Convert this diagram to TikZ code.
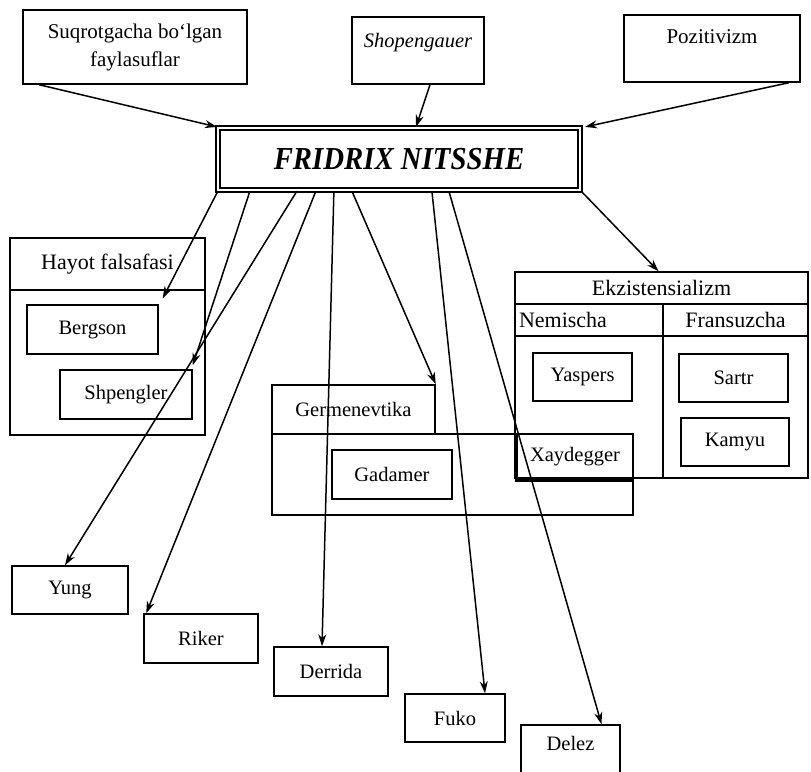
\documentclass[tikz,border=0pt]{standalone}
\usepackage{fontspec}
\usepackage{graphicx}
\setmainfont{Liberation Serif}
\usetikzlibrary{arrows.meta}
\begin{document}
\begin{tikzpicture}[x=1pt,y=-1pt,
  box/.style={draw, line width=1.5pt, inner sep=0pt, font=\fontsize{20.5}{24}\selectfont},
  ttl/.style={box, font=\fontsize{22}{26}\selectfont},
  arr/.style={line width=1.5pt, -{Stealth[length=12pt,width=8pt]}},
]
\useasboundingbox (0,0) rectangle (811,771);

% top boxes
\node[box, minimum width=224, minimum height=74, align=center, font=\fontsize{21}{28}\selectfont] (suq) at (135,47) {Suqrotgacha bo‘lgan\\faylasuflar};
\node[box, minimum width=132, minimum height=67, text height=14pt, text depth=20pt, font=\fontsize{20.5}{24}\selectfont\itshape] (shop) at (418,50.5) {Shopengauer};
\node[box, minimum width=176, minimum height=67, text height=14pt, text depth=24pt, font=\fontsize{21}{25}\selectfont] (pos) at (712,48.5) {Pozitivizm};

% central box
\node[draw, double, double distance=1.2pt, line width=2.2pt, inner sep=0pt, minimum width=362, minimum height=62] (fn) at (399,159)
  {\fontsize{32}{36}\selectfont\bfseries\itshape\scalebox{0.9}[1]{FRIDRIX NITSSHE}};

% Hayot falsafasi
\node[ttl, minimum width=195, minimum height=52] (hayh) at (107.5,264) {Hayot falsafasi};
\node[box, minimum width=195, minimum height=145] (hayb) at (107.5,362.5) {};
\node[box, minimum width=131, minimum height=49] (berg) at (92.5,329.5) {Bergson};
\node[box, minimum width=132, minimum height=49] (shp) at (126,394.5) {Shpengler};

% Germenevtika
\node[box, minimum width=163, minimum height=49] (gerh) at (353.5,409.5) {Germenevtika};
\node[box, minimum width=361, minimum height=81] (gerb) at (452.5,474.5) {};
\node[box, minimum width=120, minimum height=49] (gad) at (392,474.5) {Gadamer};

% Ekzistensializm
\node[ttl, minimum width=293, minimum height=32] (ekzt) at (661.5,288) {Ekzistensializm};
\node[ttl, minimum height=32, text width=140pt, inner xsep=4pt, align=left] (nem) at (589,320) {Nemischa};
\node[ttl, minimum width=145, minimum height=32] (fra) at (735.5,320) {Fransuzcha};
\node[box, minimum width=148, minimum height=142] (nemb) at (589,407) {};
\node[box, minimum width=145, minimum height=142] (frab) at (735.5,407) {};
\node[box, minimum width=99, minimum height=48] (yas) at (582.5,377) {Yaspers};
\node[box, minimum width=109, minimum height=48] (sar) at (733.5,378) {Sartr};
\node[box, minimum width=108, minimum height=48] (kam) at (735,442) {Kamyu};
\node[box, minimum width=116, minimum height=46] (xay) at (575,457) {Xaydegger};
\draw[line width=2.6pt] (xay.north west) -- (xay.south west) -- (xay.south east);

% bottom boxes
\node[box, minimum width=116, minimum height=48] (yung) at (70,590) {Yung};
\node[box, minimum width=114, minimum height=49] (riker) at (201,638.5) {Riker};
\node[box, minimum width=114, minimum height=49] (der) at (331,671.5) {Derrida};
\node[box, minimum width=100, minimum height=48] (fuko) at (455,718) {Fuko};
\node[box, minimum width=99, minimum height=48, text height=14pt, text depth=12pt] (delez) at (570.5,749) {Delez};

% incoming arrows
\draw[arr] ([xshift=17pt]suq.south west) -- (fn.north west);
\draw[arr] ([xshift=12pt]shop.south) -- ([xshift=17pt]fn.north);
\draw[arr] ([xshift=-12pt]pos.south east) -- ([xshift=4pt]fn.north east);

% outgoing arrows
\draw[arr] ([xshift=1pt]fn.south west) -- ([shift={(4,-6)}]berg.north east);
\draw[arr] ([xshift=33pt]fn.south west) -- ([yshift=4pt]shp.north east);
\draw[arr] ([xshift=80pt]fn.south west) -- ([xshift=-5pt]yung.north);
\draw[arr] ([xshift=99pt]fn.south west) -- ([xshift=3pt]riker.north west);
\draw[arr] ([xshift=117pt]fn.south west) -- ([xshift=-9pt]der.north);
\draw[arr] ([xshift=135pt]fn.south west) -- (gerh.north east);
\draw[arr] ([xshift=215pt]fn.south west) -- ([xshift=30pt]fuko.north);
\draw[arr] ([xshift=232pt]fn.south west) -- ([xshift=31pt]delez.north);
\draw[arr] (fn.south east) -- ([xshift=-3pt]ekzt.north);
\end{tikzpicture}
\end{document}
